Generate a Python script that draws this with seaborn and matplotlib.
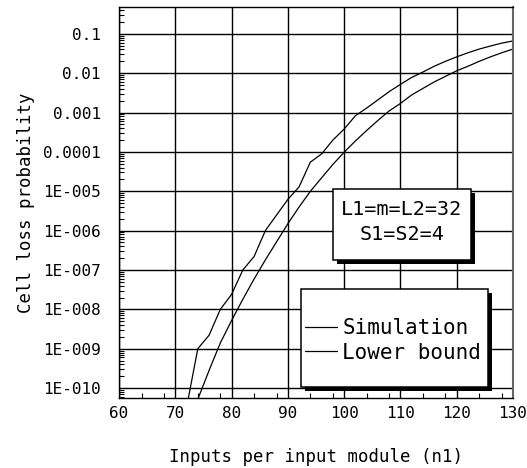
import matplotlib
matplotlib.use("Agg")
import matplotlib.pyplot as plt
from matplotlib.patches import Rectangle
from matplotlib.ticker import LogLocator, NullFormatter
import numpy as np
import pandas as pd
import seaborn as sns

# Inputs per input module (n1)
n1_sim = [72, 74, 76, 78, 80, 82, 84, 86, 88, 90, 92, 94, 96, 98, 100, 102,
          104, 106, 108, 110, 112, 114, 116, 118, 120, 122, 124, 126, 128, 130]
simulation = [3.2e-11, 1.0e-9, 2.2e-9, 1.0e-8, 2.4e-8, 1.0e-7, 2.2e-7, 1.0e-6,
              2.5e-6, 6.2e-6, 1.3e-5, 5.5e-5, 8.9e-5, 2.0e-4, 3.8e-4, 8.3e-4,
              1.3e-3, 2.1e-3, 3.4e-3, 5.2e-3, 7.8e-3, 1.07e-2, 1.5e-2, 2.0e-2,
              2.6e-2, 3.3e-2, 4.1e-2, 4.9e-2, 5.8e-2, 6.6e-2]

n1_bound = [74, 76, 78, 80, 82, 84, 86, 88, 90, 92, 94, 96, 98, 100, 102, 104,
            106, 108, 110, 112, 114, 116, 118, 120, 122, 124, 126, 128, 130]
lower_bound = [5.2e-11, 2.8e-10, 1.4e-9, 5.2e-9, 1.8e-8, 5.9e-8, 1.8e-7, 5.2e-7,
               1.5e-6, 4.0e-6, 1.0e-5, 2.2e-5, 4.8e-5, 9.8e-5, 1.9e-4, 3.5e-4,
               6.3e-4, 1.1e-3, 1.7e-3, 2.8e-3, 4.1e-3, 6.0e-3, 8.3e-3, 1.15e-2,
               1.5e-2, 2.0e-2, 2.6e-2, 3.3e-2, 4.1e-2]

x_ticks = [60, 70, 80, 90, 100, 110, 120, 130]
y_ticks = [1e-10, 1e-9, 1e-8, 1e-7, 1e-6, 1e-5, 1e-4, 1e-3, 1e-2, 1e-1]
y_tick_labels = ["1E-010", "1E-009", "1E-008", "1E-007", "1E-006", "1E-005",
                 "0.0001", "0.001", "0.01", "0.1"]

sim_df = pd.DataFrame({"n1": n1_sim, "p": simulation})
bound_df = pd.DataFrame({"n1": n1_bound, "p": lower_bound})

sns.set_theme(style="white")
plt.rcParams["font.family"] = ["DejaVu Sans Mono", "DejaVu Sans"]
plt.rcParams["text.color"] = "black"
plt.rcParams["axes.labelcolor"] = "black"
plt.rcParams["xtick.color"] = "black"
plt.rcParams["ytick.color"] = "black"

fig = plt.figure(figsize=(5.27, 4.68), dpi=100)
ax = fig.add_axes([119 / 527, 1 - 398 / 468, 394 / 527, 391 / 468])
ax.set_yscale("log")

sns.lineplot(data=sim_df, x="n1", y="p", ax=ax, color="black", lw=0.9,
             label="Simulation")
sns.lineplot(data=bound_df, x="n1", y="p", ax=ax, color="black", lw=0.9,
             label="Lower bound")

ax.set_xlim(60, 130)
ax.set_ylim(5.6e-11, 0.48)

ax.set_xticks(x_ticks)
ax.set_xticklabels([str(v) for v in x_ticks])
ax.set_xticks([64, 68, 74, 78, 84, 88, 94, 98, 104, 108, 114, 118, 124, 128],
              minor=True)
ax.set_yticks(y_ticks)
ax.set_yticklabels(y_tick_labels)
ax.yaxis.set_minor_locator(LogLocator(base=10, subs=np.arange(2, 10), numticks=30))
ax.yaxis.set_minor_formatter(NullFormatter())

ax.tick_params(axis="both", which="major", length=0, labelsize=11.5)
ax.tick_params(axis="x", which="major", pad=6)
ax.tick_params(axis="y", which="major", pad=13)
ax.tick_params(axis="both", which="minor", direction="in", length=3.5,
               width=0.8, color="black", bottom=True, left=True,
               top=False, right=False)

ax.grid(True, which="major", color="black", lw=1.0)
for side in ["left", "bottom", "top", "right"]:
    ax.spines[side].set_visible(True)
    ax.spines[side].set_color("black")
    ax.spines[side].set_linewidth(1.0)
ax.spines["right"].set_color("#666666")
ax.spines["right"].set_linewidth(1.5)

ax.set_xlabel("Inputs per input module (n1)", fontsize=12.5, labelpad=19)
ax.set_ylabel("Cell loss probability", fontsize=12.5, labelpad=6)

# Parameter box with a solid drop shadow
px_w, px_h = 394.0, 391.0
sh_dx, sh_dy = 4 / px_w, 4 / px_h


def shadow_box(x0, y0, x1, y1):
    ax.add_patch(Rectangle((x0 + sh_dx, y0 - sh_dy), x1 - x0, y1 - y0,
                           transform=ax.transAxes, facecolor="black",
                           edgecolor="black", lw=0, zorder=4, clip_on=False))
    ax.add_patch(Rectangle((x0, y0), x1 - x0, y1 - y0, transform=ax.transAxes,
                           facecolor="white", edgecolor="black", lw=1.1,
                           zorder=5, clip_on=False))


shadow_box(0.543, 0.353, 0.893, 0.535)
ax.text(0.718, 0.45, "L1=m=L2=32\nS1=S2=4", transform=ax.transAxes,
        ha="center", va="center", multialignment="center", fontsize=14.5,
        linespacing=1.35, zorder=6)

shadow_box(0.462, 0.028, 0.937, 0.279)
leg = ax.legend(loc="center", bbox_to_anchor=(0.695, 0.147), frameon=False,
                fontsize=15, handlelength=1.55, handletextpad=0.25,
                labelspacing=0.2, borderpad=0.0)
leg.set_zorder(7)

fig.savefig("out.png", dpi=100, facecolor="white")
